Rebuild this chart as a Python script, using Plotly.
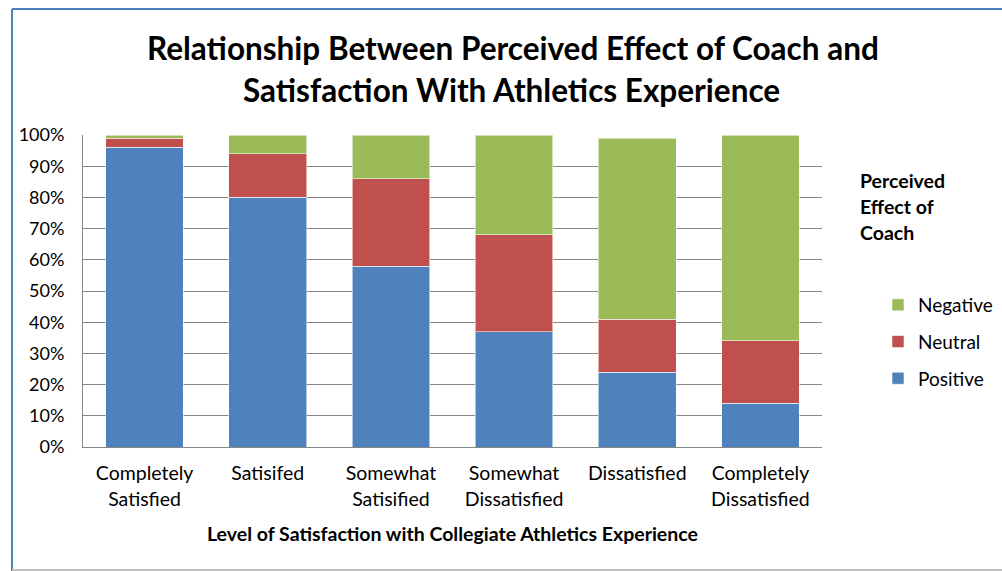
import plotly.graph_objects as go

# Survey results: share of athletes by perceived effect of coach (%)
categories = [
    "Completely<br>Satisfied",
    "Satisifed",
    "Somewhat<br>Satisified",
    "Somewhat<br>Dissatisfied",
    "Dissatisfied",
    "Completely<br>Dissatisfied",
]
positive = [96, 80, 58, 37, 24, 14]
neutral = [3, 14, 28, 31, 17, 20]
negative = [1, 6, 14, 32, 58, 66]

series = [
    ("Positive", positive, "#4F81BD", 3),
    ("Neutral", neutral, "#C0504D", 2),
    ("Negative", negative, "#9BBB59", 1),
]

fig = go.Figure()
for name, vals, color, rank in series:
    fig.add_trace(go.Bar(
        x=categories, y=vals, name=name, legendgroup=name, legendrank=rank,
        marker=dict(color=color, line=dict(color="rgba(255,255,255,0.55)", width=1)),
    ))

font_family = "Lato, Open Sans, sans-serif"

# Plot area geometry in pixels, used to place annotations and frame in paper coords
W, H = 1002, 571
L, R, T, B = 83, 180, 135, 124
pw, ph = W - L - R, H - T - B


def px_x(x):
    return (x - L) / pw


def px_y(y):
    return (H - B - y) / ph


def label(text, x, y, size, xanchor="center", align="center"):
    return dict(text=text, xref="paper", yref="paper", x=px_x(x), y=px_y(y),
                xanchor=xanchor, yanchor="middle", align=align, showarrow=False,
                font=dict(size=size, family=font_family, color="#000000"))


fig.update_layout(
    width=W, height=H,
    barmode="stack", bargap=0.37,
    plot_bgcolor="white", paper_bgcolor="white",
    margin=dict(l=L, r=R, t=T, b=B, autoexpand=False),
    font=dict(family=font_family, color="#000000", size=18),
    legend=dict(
        x=px_x(878), xanchor="left", y=px_y(286), yanchor="top",
        traceorder="grouped", tracegroupgap=9,
        font=dict(size=19), itemwidth=30,
    ),
    showlegend=True,
    xaxis=dict(
        showline=True, linecolor="#868686", linewidth=1,
        tickfont=dict(size=19.5), ticks="", ticklabelstandoff=9,
    ),
    yaxis=dict(
        range=[0, 100], dtick=10, ticksuffix="%",
        showgrid=True, gridcolor="#868686", gridwidth=1,
        showline=True, linecolor="#868686", linewidth=1,
        ticks="", ticklabelstandoff=14,
        tickfont=dict(size=18), zeroline=False,
    ),
    annotations=[
        label("<b>Relationship Between Perceived Effect of Coach and</b>", 513, 48, 31.5),
        label("<b>Satisfaction With Athletics Experience</b>", 512, 90, 31.5),
        label("<b>Level of Satisfaction with Collegiate Athletics Experience</b>", 452, 533, 19.5),
        label("<b>Perceived</b>", 858, 180, 19.5, xanchor="left", align="left"),
        label("<b>Effect of</b>", 858, 206, 19.5, xanchor="left", align="left"),
        label("<b>Coach</b>", 858, 232, 19.5, xanchor="left", align="left"),
    ],
    shapes=[
        dict(type="line", xref="paper", yref="paper", x0=px_x(12), x1=px_x(1010),
             y0=px_y(9), y1=px_y(9), line=dict(color="#4F81BD", width=2)),
        dict(type="line", xref="paper", yref="paper", x0=px_x(12), x1=px_x(12),
             y0=px_y(9), y1=px_y(575), line=dict(color="#4F81BD", width=2)),
        dict(type="line", xref="paper", yref="paper", x0=px_x(12), x1=px_x(1010),
             y0=px_y(570), y1=px_y(570), line=dict(color="#BFBFBF", width=2)),
    ],
)

fig.write_html("out.html")
